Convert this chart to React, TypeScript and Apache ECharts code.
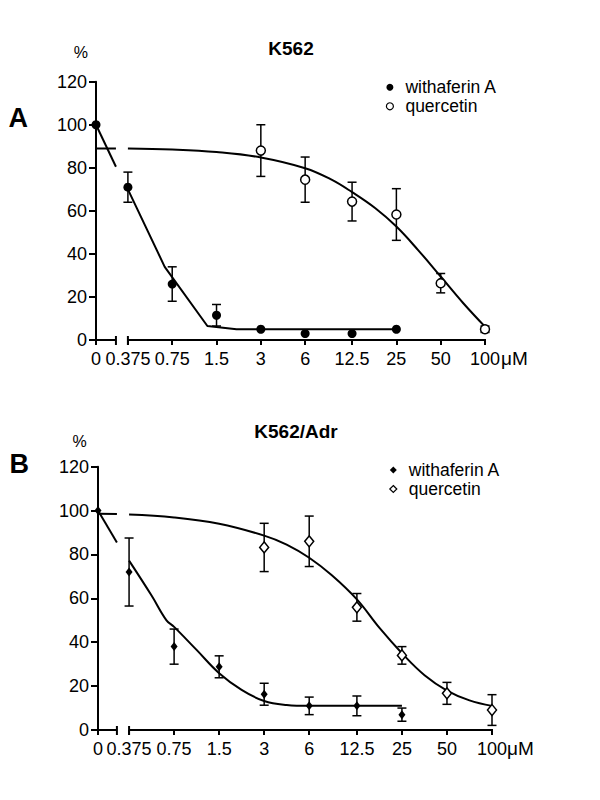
import React, { useEffect, useRef } from 'react';
import * as echarts from 'echarts';

// ---------- shared axis definitions ----------
const tickConc = [0.375, 0.75, 1.5, 3, 6, 12.5, 25, 50, 100];
const tickLabels = ['0.375', '0.75', '1.5', '3', '6', '12.5', '25', '50', '100'];
const zeroLabel = '0';
const yTicks = [0, 20, 40, 60, 80, 100, 120];

// ---------- Panel A : K562 ----------
const wfA_conc = [0, 0.375, 0.75, 1.5, 3, 6, 12.5, 25];
const wfA_mean = [100, 71, 26, 11.5, 5, 3, 3, 5];
const wfA_err = [0, 7, 8, 5, 0, 0, 0, 0];
const qA_conc = [3, 6, 12.5, 25, 50, 100];
const qA_mean = [88, 74.5, 64.3, 58.3, 26.4, 5];
const qA_err = [12, 10.5, 9, 12, 4.5, 1.5];
// fitted curves
const wfA_fitLeft = [100, 80.5]; // at dose 0 and at the axis break
const wfA_fitConc = [0.375, 0.667, 1.3, 2.05, 25];
const wfA_fitVal = [70, 34, 6.5, 5, 5];
const qA_fitLeft = [89, 89];
const qA_fitConc = [0.375, 0.75, 1.5, 3, 6, 9, 12.5, 18, 25, 35, 50, 71, 100];
const qA_fitVal = [89, 88.5, 87.3, 84.8, 79.8, 74.6, 68.7, 61.2, 52.7, 41.9, 29.5, 17.2, 6.2];

// ---------- Panel B : K562/Adr ----------
const wfB_conc = [0, 0.375, 0.75, 1.5, 3, 6, 12.5, 25];
const wfB_mean = [100, 72, 38, 28.8, 16.3, 11, 11, 7];
const wfB_err = [0, 15.5, 8, 5, 5, 4, 4.5, 3];
const qB_conc = [3, 6, 12.5, 25, 50, 100];
const qB_mean = [83.2, 86, 55.9, 34, 16.7, 9.1];
const qB_err = [11, 11.5, 6.3, 4, 5, 7];
const wfB_fitLeft = [100, 85.5];
const wfB_fitConc = [0.375, 0.53, 0.667, 0.75, 1.06, 1.5, 2.12, 3, 4.24, 6, 12.5, 25];
const wfB_fitVal = [77.2, 61.3, 50, 47, 36.5, 25.9, 18.3, 13.2, 11.4, 11, 11, 11];
const qB_fitLeft = [98.5, 98.4];
const qB_fitConc = [0.375, 0.75, 1.5, 3, 4.24, 6, 8.5, 12.5, 17.7, 25, 35.4, 50, 70.7, 100];
const qB_fitVal = [98.2, 96.9, 94, 88.6, 84.5, 78.5, 70.5, 59.5, 46.5, 35, 25, 18, 13.5, 11];

// ---------- layout ----------
const FONT = 'Liberation Sans, Arial, Helvetica, sans-serif';
const BASE = 0.375;
const XMAX = Math.log2(100 / BASE);
const BREAK_U = -0.27;
const panels = [
  { zero: -0.72, left: 96, top: 81.7, width: 389, height: 258.3 },
  { zero: -0.69, left: 98, top: 466.7, width: 394, height: 263.3 },
];

const u = (c: number, zero: number) => (c === 0 ? zero : Math.log2(c / BASE));

function pts(conc: number[], vals: number[], zero: number) {
  return conc.map((c, i) => [u(c, zero), vals[i]]);
}
function errPts(conc: number[], vals: number[], err: number[], zero: number) {
  return conc
    .map((c, i) => [u(c, zero), vals[i], err[i]])
    .filter((d) => d[2] > 0);
}

const errRender = (params: any, api: any) => {
  const x = api.value(0);
  const y = api.value(1);
  const e = api.value(2);
  const p1 = api.coord([x, y + e]);
  const p2 = api.coord([x, y - e]);
  const cap = 4.5;
  const style = { stroke: '#000', lineWidth: 1.5, fill: null };
  return {
    type: 'group',
    children: [
      { type: 'line', shape: { x1: p1[0], y1: p1[1], x2: p2[0], y2: p2[1] }, style },
      { type: 'line', shape: { x1: p1[0] - cap, y1: p1[1], x2: p1[0] + cap, y2: p1[1] }, style },
      { type: 'line', shape: { x1: p2[0] - cap, y1: p2[1], x2: p2[0] + cap, y2: p2[1] }, style },
    ],
  };
};

const axisBreakRender = (params: any, api: any) => {
  const a = api.coord([api.value(0), 0]);
  const b = api.coord([api.value(1), 0]);
  const c = api.coord([api.value(2), 0]);
  const d = api.coord([api.value(3), 0]);
  const st = { stroke: '#000', lineWidth: 2, fill: null };
  return {
    type: 'group',
    children: [
      { type: 'line', shape: { x1: a[0] - 1, y1: a[1], x2: b[0], y2: b[1] }, style: st },
      { type: 'line', shape: { x1: c[0], y1: c[1], x2: d[0] + 1, y2: d[1] }, style: st },
      { type: 'line', shape: { x1: b[0], y1: b[1] - 4, x2: b[0], y2: b[1] + 5 }, style: st },
      { type: 'line', shape: { x1: c[0], y1: c[1] - 4, x2: c[0], y2: c[1] + 5 }, style: st },
    ],
  };
};

function buildAxes(idx: number) {
  const p = panels[idx];
  const positions = [p.zero, ...tickConc.map((c) => u(c, p.zero))];
  const labels = [zeroLabel, ...tickLabels];
  const fmt = (v: number) => {
    const i = positions.findIndex((q) => Math.abs(q - v) < 1e-6);
    return i >= 0 ? labels[i] : '';
  };
  const xAxis = {
    type: 'value',
    gridIndex: idx,
    min: p.zero,
    max: XMAX,
    axisLine: { show: false, onZero: false },
    splitLine: { show: false },
    axisTick: {
      show: true,
      customValues: positions,
      length: 5,
      lineStyle: { color: '#000', width: 2 },
    },
    axisLabel: {
      customValues: positions,
      formatter: fmt,
      margin: 10,
      fontSize: 18,
      color: '#000',
      fontFamily: FONT,
    },
  };
  const yAxis = {
    type: 'value',
    gridIndex: idx,
    min: 0,
    max: 120,
    interval: 20,
    axisLine: { show: true, onZero: false, lineStyle: { color: '#000', width: 2 } },
    axisTick: { show: true, length: 7, lineStyle: { color: '#000', width: 2 } },
    splitLine: { show: false },
    axisLabel: {
      margin: 9,
      fontSize: 18,
      color: '#000',
      fontFamily: FONT,
      formatter: (v: number) => (yTicks.includes(v) ? String(v) : ''),
    },
  };
  return { xAxis, yAxis };
}

function curve(name: string, idx: number, data: number[][], smooth: boolean) {
  return {
    name,
    type: 'line',
    xAxisIndex: idx,
    yAxisIndex: idx,
    data,
    symbol: 'none',
    smooth: smooth ? 0.4 : false,
    silent: true,
    z: 2,
    lineStyle: { color: '#000', width: 2 },
  };
}

function panelSeries(
  idx: number,
  wf: { conc: number[]; mean: number[]; err: number[]; fitLeft: number[]; fitConc: number[]; fitVal: number[] },
  q: { conc: number[]; mean: number[]; err: number[]; fitLeft: number[]; fitConc: number[]; fitVal: number[] },
  filledSymbol: any,
  filledSize: any,
  openSymbol: any,
  openSize: any
) {
  const z0 = panels[idx].zero;
  return [
    {
      name: 'axis' + idx,
      type: 'custom',
      xAxisIndex: idx,
      yAxisIndex: idx,
      renderItem: axisBreakRender,
      data: [[z0, BREAK_U, 0, XMAX]],
      silent: true,
      z: 1,
    },
    curve('wfFitL' + idx, idx, [[z0, wf.fitLeft[0]], [BREAK_U, wf.fitLeft[1]]], false),
    curve('wfFit' + idx, idx, pts(wf.fitConc, wf.fitVal, z0), idx === 1),
    curve('qFitL' + idx, idx, [[z0, q.fitLeft[0]], [BREAK_U, q.fitLeft[1]]], false),
    curve('qFit' + idx, idx, pts(q.fitConc, q.fitVal, z0), true),
    {
      name: 'wfErr' + idx,
      type: 'custom',
      xAxisIndex: idx,
      yAxisIndex: idx,
      renderItem: errRender,
      data: errPts(wf.conc, wf.mean, wf.err, z0),
      silent: true,
      z: 3,
    },
    {
      name: 'qErr' + idx,
      type: 'custom',
      xAxisIndex: idx,
      yAxisIndex: idx,
      renderItem: errRender,
      data: errPts(q.conc, q.mean, q.err, z0),
      silent: true,
      z: 3,
    },
    {
      name: 'withaferin A',
      type: 'scatter',
      xAxisIndex: idx,
      yAxisIndex: idx,
      data: pts(wf.conc, wf.mean, z0),
      symbol: filledSymbol,
      symbolSize: filledSize,
      itemStyle: { color: '#000', opacity: 1 },
      z: 4,
    },
    {
      name: 'quercetin',
      type: 'scatter',
      xAxisIndex: idx,
      yAxisIndex: idx,
      data: pts(q.conc, q.mean, z0),
      symbol: openSymbol,
      symbolSize: openSize,
      itemStyle: { color: '#fff', borderColor: '#000', borderWidth: 1.5, opacity: 1 },
      z: 4,
    },
  ];
}

export default function App() {
  const ref = useRef<HTMLDivElement>(null);
  useEffect(() => {
    if (!ref.current) return;
    const chart = echarts.init(ref.current, undefined, { renderer: 'svg' });
    const a = buildAxes(0);
    const b = buildAxes(1);
    const legendText = { fontSize: 17.5, color: '#000', fontFamily: FONT, lineHeight: 18, padding: [0, 0, 0, 7] };
    const option: any = {
      animation: false,
      backgroundColor: '#fff',
      textStyle: { fontFamily: FONT },
      title: [
        {
          text: 'K562',
          left: 291,
          top: 39,
          textAlign: 'center',
          padding: 0,
          textStyle: { fontSize: 19, fontWeight: 'bold', color: '#000', fontFamily: FONT },
        },
        {
          text: 'K562/Adr',
          left: 296,
          top: 421.5,
          textAlign: 'center',
          padding: 0,
          textStyle: { fontSize: 19, fontWeight: 'bold', color: '#000', fontFamily: FONT },
        },
      ],
      legend: [
        {
          orient: 'vertical',
          left: 385.8,
          top: 78.3,
          padding: 0,
          itemGap: 1,
          itemWidth: 7,
          itemHeight: 7,
          selectedMode: false,
          textStyle: legendText,
          data: [
            { name: 'withaferin A', icon: 'circle', itemStyle: { color: '#000', borderWidth: 0, opacity: 1 } },
            { name: 'quercetin', icon: 'circle', itemStyle: { color: '#fff', borderColor: '#000', borderWidth: 1.2, opacity: 1 } },
          ],
        },
        {
          orient: 'vertical',
          left: 389.2,
          top: 461,
          padding: 0,
          itemGap: 1,
          itemWidth: 7,
          itemHeight: 7,
          selectedMode: false,
          textStyle: legendText,
          data: [
            { name: 'withaferin A', icon: 'diamond', itemStyle: { color: '#000', borderWidth: 0, opacity: 1 } },
            { name: 'quercetin', icon: 'diamond', itemStyle: { color: '#fff', borderColor: '#000', borderWidth: 1.2, opacity: 1 } },
          ],
        },
      ],
      grid: panels.map((p) => ({
        left: p.left,
        top: p.top,
        width: p.width,
        height: p.height,
        containLabel: false,
        outerBoundsMode: 'none',
      })),
      xAxis: [a.xAxis, b.xAxis],
      yAxis: [a.yAxis, b.yAxis],
      series: [
        ...panelSeries(
          0,
          { conc: wfA_conc, mean: wfA_mean, err: wfA_err, fitLeft: wfA_fitLeft, fitConc: wfA_fitConc, fitVal: wfA_fitVal },
          { conc: qA_conc, mean: qA_mean, err: qA_err, fitLeft: qA_fitLeft, fitConc: qA_fitConc, fitVal: qA_fitVal },
          'circle',
          9,
          'circle',
          9
        ),
        ...panelSeries(
          1,
          { conc: wfB_conc, mean: wfB_mean, err: wfB_err, fitLeft: wfB_fitLeft, fitConc: wfB_fitConc, fitVal: wfB_fitVal },
          { conc: qB_conc, mean: qB_mean, err: qB_err, fitLeft: qB_fitLeft, fitConc: qB_fitConc, fitVal: qB_fitVal },
          'diamond',
          [7, 9],
          'diamond',
          [9, 11]
        ),
      ],
      graphic: [
        { type: 'text', x: 18.3, y: 118.3, style: { text: 'A', font: `bold 27px ${FONT}`, fill: '#000', textAlign: 'center', textVerticalAlign: 'middle' } },
        { type: 'text', x: 19.3, y: 463.7, style: { text: 'B', font: `bold 27px ${FONT}`, fill: '#000', textAlign: 'center', textVerticalAlign: 'middle' } },
        { type: 'text', x: 80.8, y: 52, style: { text: '%', font: `16px ${FONT}`, fill: '#000', textAlign: 'center', textVerticalAlign: 'middle' } },
        { type: 'text', x: 79.7, y: 441.7, style: { text: '%', font: `16px ${FONT}`, fill: '#000', textAlign: 'center', textVerticalAlign: 'middle' } },
        { type: 'text', x: 501, y: 358.5, style: { text: 'μM', font: `19px ${FONT}`, fill: '#000', textAlign: 'left', textVerticalAlign: 'middle' } },
        { type: 'text', x: 507, y: 748, style: { text: 'μM', font: `19px ${FONT}`, fill: '#000', textAlign: 'left', textVerticalAlign: 'middle' } },
      ],
    };
    chart.setOption(option);
    return () => chart.dispose();
  }, []);
  return (
    <div
      ref={ref}
      style={{ position: 'absolute', left: 0, top: 0, width: 600, height: 800, background: '#fff' }}
    />
  );
}
